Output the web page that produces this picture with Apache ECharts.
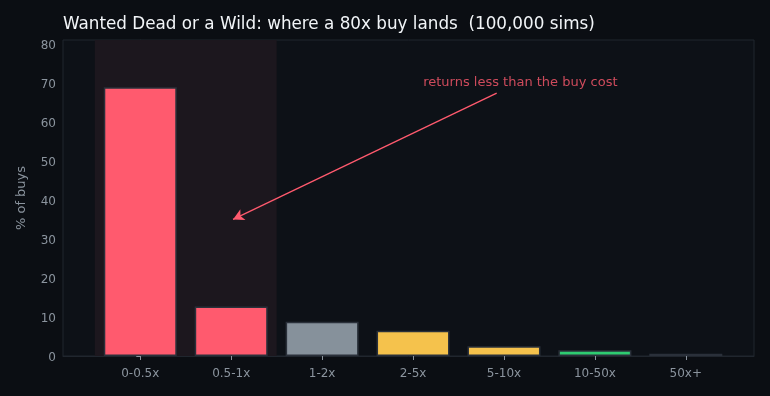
<!doctype html>
<html>
<head>
<meta charset="UTF-8">
<title>Wanted Dead or a Wild - 80x buy</title>
<script src="https://cdn.jsdelivr.net/npm/echarts@6/dist/echarts.min.js"></script>
<style>
  html, body { margin: 0; padding: 0; background: #0b0e13; }
  #main { width: 770px; height: 396px; }
</style>
</head>
<body>
<div id="main"></div>
<script>
// buckets of return vs buy cost
var buckets = ['0-0.5x', '0.5-1x', '1-2x', '2-5x', '5-10x', '10-50x', '50x+'];
var pctBuys = [68.9, 12.7, 8.8, 6.5, 2.5, 1.5, 0.6];
var barColors = ['#ff5a6e', '#ff5a6e', '#86919b', '#f5c24c', '#f5c24c', '#2ecc71', '#1e232b'];
var yTicks = [0, 10, 20, 30, 40, 50, 60, 70, 80];
var noteText = 'returns less than the buy cost';

var myChart = echarts.init(document.getElementById('main'));

var barData = [];
for (var i = 0; i < buckets.length; i++) {
    barData.push({
        value: [i, pctBuys[i]],
        itemStyle: { color: barColors[i] }
    });
}
var idx = buckets.map(function (b, i) { return i; });

option = {
    backgroundColor: '#0b0e13',
    animation: false,
    title: {
        text: 'Wanted Dead or a Wild: where a 80x buy lands  (100,000 sims)',
        left: 58,
        top: 11,
        textStyle: { color: '#f2f5f8', fontSize: 16.8, fontWeight: 'normal', fontFamily: 'DejaVu Sans' }
    },
    grid: {
        left: 63, right: 16, top: 40, bottom: 40,
        show: true,
        backgroundColor: '#0d1117',
        borderColor: '#20262e',
        borderWidth: 1
    },
    xAxis: {
        type: 'value',
        min: -0.85,
        max: 6.75,
        splitLine: { show: false },
        axisLine: { show: true, lineStyle: { color: '#20262e' } },
        axisTick: { show: true, customValues: idx, length: 4, lineStyle: { color: '#8b949e' } },
        axisLabel: {
            customValues: idx,
            color: '#8b949e',
            fontSize: 12,
            fontFamily: 'DejaVu Sans',
            margin: 12,
            formatter: function (v) { return buckets[Math.round(v)]; }
        }
    },
    yAxis: {
        type: 'value',
        min: 0,
        max: 81,
        name: '% of buys',
        nameLocation: 'middle',
        nameGap: 35,
        nameTextStyle: { color: '#8b949e', fontSize: 13, fontFamily: 'DejaVu Sans' },
        splitLine: { show: false },
        axisLine: { show: true, lineStyle: { color: '#20262e' } },
        axisTick: { show: true, customValues: yTicks, length: 4, lineStyle: { color: '#8b949e' } },
        axisLabel: {
            customValues: yTicks, color: '#8b949e', fontSize: 12,
            fontFamily: 'DejaVu Sans', margin: 7,
            verticalAlign: 'top', lineHeight: 4
        }
    },
    series: [
        {
            // shaded "loss" region
            type: 'line',
            data: [],
            z: 1,
            markArea: {
                silent: true,
                itemStyle: { color: '#1c171e' },
                data: [[{ xAxis: -0.5 }, { xAxis: 1.5 }]]
            }
        },
        {
            type: 'bar',
            data: barData,
            barWidth: 73,
            z: 2,
            itemStyle: { borderColor: '#2a303a', borderWidth: 1.5 },
            markLine: {
                silent: true,
                symbol: ['none', 'arrow'],
                symbolSize: [9, 11],
                lineStyle: { color: '#ff5a6e', width: 1.3, type: 'solid' },
                label: { show: false },
                data: [[{ coord: [3.92, 67.4] }, { coord: [1.02, 35] }]]
            }
        },
        {
            type: 'scatter',
            data: [[4.18, 70.0]],
            symbolSize: 0,
            z: 3,
            label: {
                show: true,
                position: 'inside',
                formatter: noteText,
                color: '#ff5a6e',
                fontSize: 13,
                fontFamily: 'DejaVu Sans'
            }
        }
    ]
};
myChart.setOption(option);
</script>
</body>
</html>
